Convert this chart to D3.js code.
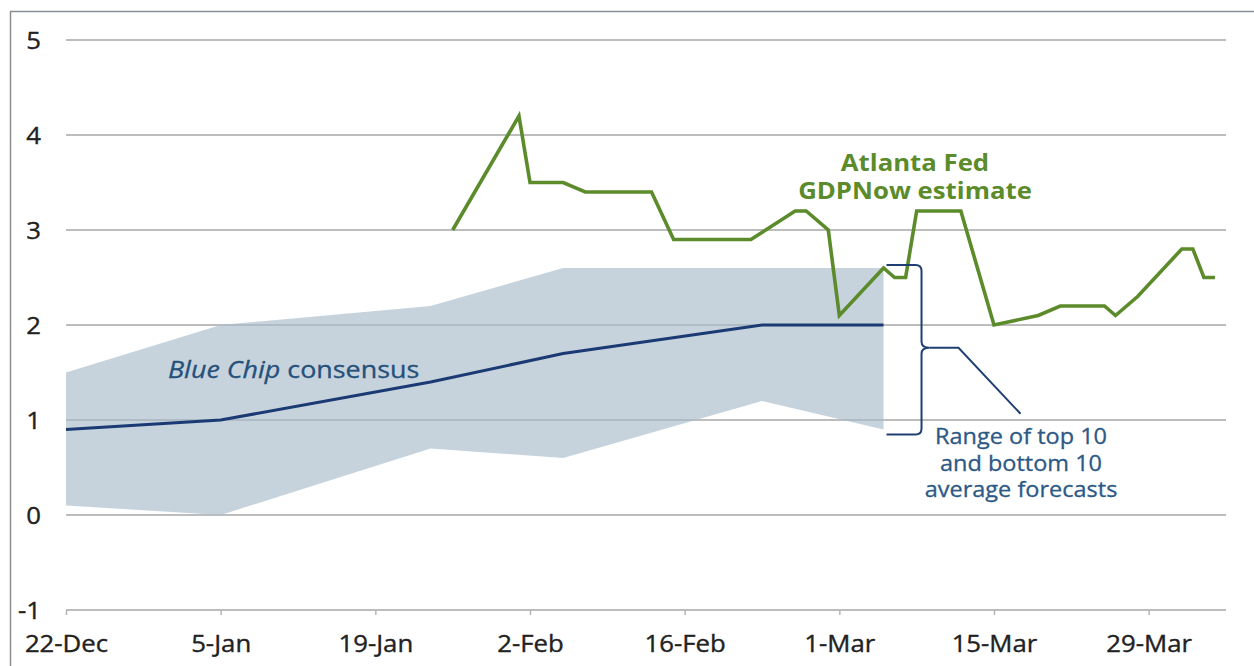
<!DOCTYPE html>
<html>
<head>
<meta charset="utf-8">
<script src="https://cdn.jsdelivr.net/npm/d3@7"></script>
<style>
  body { margin: 0; background: #ffffff; }
  svg { display: block; }
</style>
</head>
<body>
<div id="chart"></div>
<script>
// Atlanta Fed GDPNow vs Blue Chip consensus (Q1 real GDP growth, %)
var gdpDates = ["2024-01-26", "2024-02-01", "2024-02-02", "2024-02-05", "2024-02-07", "2024-02-13",
    "2024-02-15", "2024-02-22", "2024-02-26", "2024-02-27", "2024-02-29", "2024-03-01", "2024-03-05",
    "2024-03-06", "2024-03-07", "2024-03-08", "2024-03-12", "2024-03-15", "2024-03-19", "2024-03-21",
    "2024-03-25", "2024-03-26", "2024-03-28", "2024-04-01", "2024-04-02", "2024-04-03", "2024-04-04"];
var gdpValues = [3.0, 4.2, 3.5, 3.5, 3.4, 3.4, 2.9, 2.9, 3.2, 3.2, 3.0, 2.1, 2.6,
    2.5, 2.5, 3.2, 3.2, 2.0, 2.1, 2.2, 2.2, 2.1, 2.3, 2.8, 2.8, 2.5, 2.5];

var bcDates = ["2023-12-22", "2024-01-05", "2024-01-24", "2024-02-05", "2024-02-23", "2024-03-05"];
var bcConsensus = [0.9, 1.0, 1.4, 1.7, 2.0, 2.0];
var bcTop10 = [1.5, 2.0, 2.2, 2.6, 2.6, 2.6];
var bcBottom10 = [0.1, 0.0, 0.7, 0.6, 1.2, 0.9];

var xTickDates = ["2023-12-22", "2024-01-05", "2024-01-19", "2024-02-02", "2024-02-16",
    "2024-03-01", "2024-03-15", "2024-03-29"];
var yTicks = [-1, 0, 1, 2, 3, 4, 5];
var xDomain = ["2023-12-22", "2024-04-05"];

var parseDate = d3.timeParse("%Y-%m-%d");
var fmt = d3.timeFormat("%-d-%b");

var width = 1254, height = 666;
var FONT = "'Open Sans', 'DejaVu Sans', sans-serif";
var STRETCH = 1.12;

var gdp = gdpDates.map(function (d, i) { return {date: parseDate(d), v: gdpValues[i]}; });
var bc = bcDates.map(function (d, i) {
    return {date: parseDate(d), mid: bcConsensus[i], hi: bcTop10[i], lo: bcBottom10[i]};
});

var svg = d3.select("#chart").append("svg")
    .attr("width", width)
    .attr("height", height);

var x = d3.scaleTime()
    .domain(xDomain.map(parseDate))
    .range([66, 1226]);

var y = d3.scaleLinear()
    .domain([-1, 5])
    .range([610, 40]);

// outer frame (top and left only)
svg.append("path")
    .attr("d", "M10.5,666 L10.5,11.5 L1254,11.5")
    .attr("fill", "none")
    .attr("stroke", "#8a8f94")
    .attr("stroke-width", 1.5);

// helper for horizontally widened text
function label(g, px, py, str, size, color, anchor, weight) {
    return g.append("text")
        .attr("transform", "translate(" + px + "," + py + ") scale(" + STRETCH + ",1)")
        .attr("text-anchor", anchor || "start")
        .attr("font-family", FONT)
        .attr("font-size", size)
        .attr("font-weight", weight || "normal")
        .attr("fill", color)
        .text(str);
}

// gridlines
svg.append("g").selectAll("line")
    .data(yTicks)
    .enter().append("line")
    .attr("x1", x.range()[0])
    .attr("x2", x.range()[1])
    .attr("y1", function (d) { return y(d); })
    .attr("y2", function (d) { return y(d); })
    .attr("stroke", "#bdbdbd")
    .attr("stroke-width", 2);

// forecast range band (semi-transparent over the grid)
var area = d3.area()
    .x(function (d) { return x(d.date); })
    .y0(function (d) { return y(d.lo); })
    .y1(function (d) { return y(d.hi); });

svg.append("path")
    .datum(bc)
    .attr("d", area)
    .attr("fill", "#a9bccb")
    .attr("fill-opacity", 0.66);

// x axis ticks and labels
var xAxis = d3.axisBottom(x)
    .tickValues(xTickDates.map(parseDate))
    .tickFormat(fmt)
    .tickSize(5)
    .tickSizeOuter(0);

var gx = svg.append("g")
    .attr("transform", "translate(0," + y(-1) + ")")
    .call(xAxis);
gx.select(".domain").remove();
gx.selectAll(".tick line").attr("stroke", "#b5b5b5").attr("stroke-width", 1.5);
gx.selectAll(".tick text")
    .attr("y", 42)
    .attr("dy", null)
    .attr("transform", "scale(" + STRETCH + ",1)")
    .attr("font-family", FONT)
    .attr("font-size", 23)
    .attr("fill", "#222")
    .attr("stroke", "#222")
    .attr("stroke-width", 0.35);

// y labels
var gy = svg.append("g");
yTicks.forEach(function (t) {
    label(gy, 41, y(t) + 8.5, String(t), 23, "#222", "end")
        .attr("stroke", "#222")
        .attr("stroke-width", 0.35);
});

// Blue Chip consensus line
var line = d3.line()
    .x(function (d) { return x(d.date); })
    .y(function (d) { return y(d.mid); });

svg.append("path")
    .datum(bc)
    .attr("d", line)
    .attr("fill", "none")
    .attr("stroke", "#1b3a73")
    .attr("stroke-width", 3);

// GDPNow line
var gLine = d3.line()
    .x(function (d) { return x(d.date); })
    .y(function (d) { return y(d.v); });

svg.append("path")
    .datum(gdp)
    .attr("d", gLine)
    .attr("fill", "none")
    .attr("stroke", "#5b8b2a")
    .attr("stroke-width", 3.6)
    .attr("stroke-linejoin", "miter");

// bracket for the range annotation
var last = bc[bc.length - 1];
var bx0 = x(last.date) + 3;
var bxv = bx0 + 35;
var yTop = y(last.hi) + -3;
var yBot = y(last.lo) + 5;
var yMid = y(1.76);
var r = 6;
var brace = "M" + bx0 + "," + yTop +
    " L" + (bxv - r) + "," + yTop +
    " Q" + bxv + "," + yTop + " " + bxv + "," + (yTop + r) +
    " L" + bxv + "," + (yMid - r) +
    " Q" + bxv + "," + yMid + " " + (bxv + 8) + "," + yMid +
    " Q" + bxv + "," + yMid + " " + bxv + "," + (yMid + r) +
    " L" + bxv + "," + (yBot - r) +
    " Q" + bxv + "," + yBot + " " + (bxv - r) + "," + yBot +
    " L" + bx0 + "," + yBot;
svg.append("path")
    .attr("d", brace)
    .attr("fill", "none")
    .attr("stroke", "#1f3f73")
    .attr("stroke-width", 2);

svg.append("path")
    .attr("d", "M" + (bxv + 8) + "," + yMid + " L" + (bxv + 37) + "," + yMid +
        " L" + (bxv + 99) + "," + (yMid + 66))
    .attr("fill", "none")
    .attr("stroke", "#1f3f73")
    .attr("stroke-width", 2);

// annotation texts
var ann = svg.append("g");
var rangeLines = ["Range of top 10", "and bottom 10", "average forecasts"];
rangeLines.forEach(function (s, i) {
    label(ann, 1021, 444 + i * 26.5, s, 21, "#2c5985", "middle")
        .attr("stroke", "#2c5985")
        .attr("stroke-width", 0.3);
});

label(ann, 915, 171, "Atlanta Fed", 23, "#5b8b2a", "middle", "bold");
label(ann, 915, 199, "GDPNow estimate", 23, "#5b8b2a", "middle", "bold");

var bcLabel = ann.append("text")
    .attr("transform", "translate(168,378) scale(" + STRETCH + ",1)")
    .attr("font-family", FONT)
    .attr("font-size", 24)
    .attr("fill", "#24507a")
    .attr("stroke", "#24507a")
    .attr("stroke-width", 0.3);
bcLabel.append("tspan").attr("font-style", "italic").text("Blue Chip");
bcLabel.append("tspan").text(" consensus");
</script>
</body>
</html>
